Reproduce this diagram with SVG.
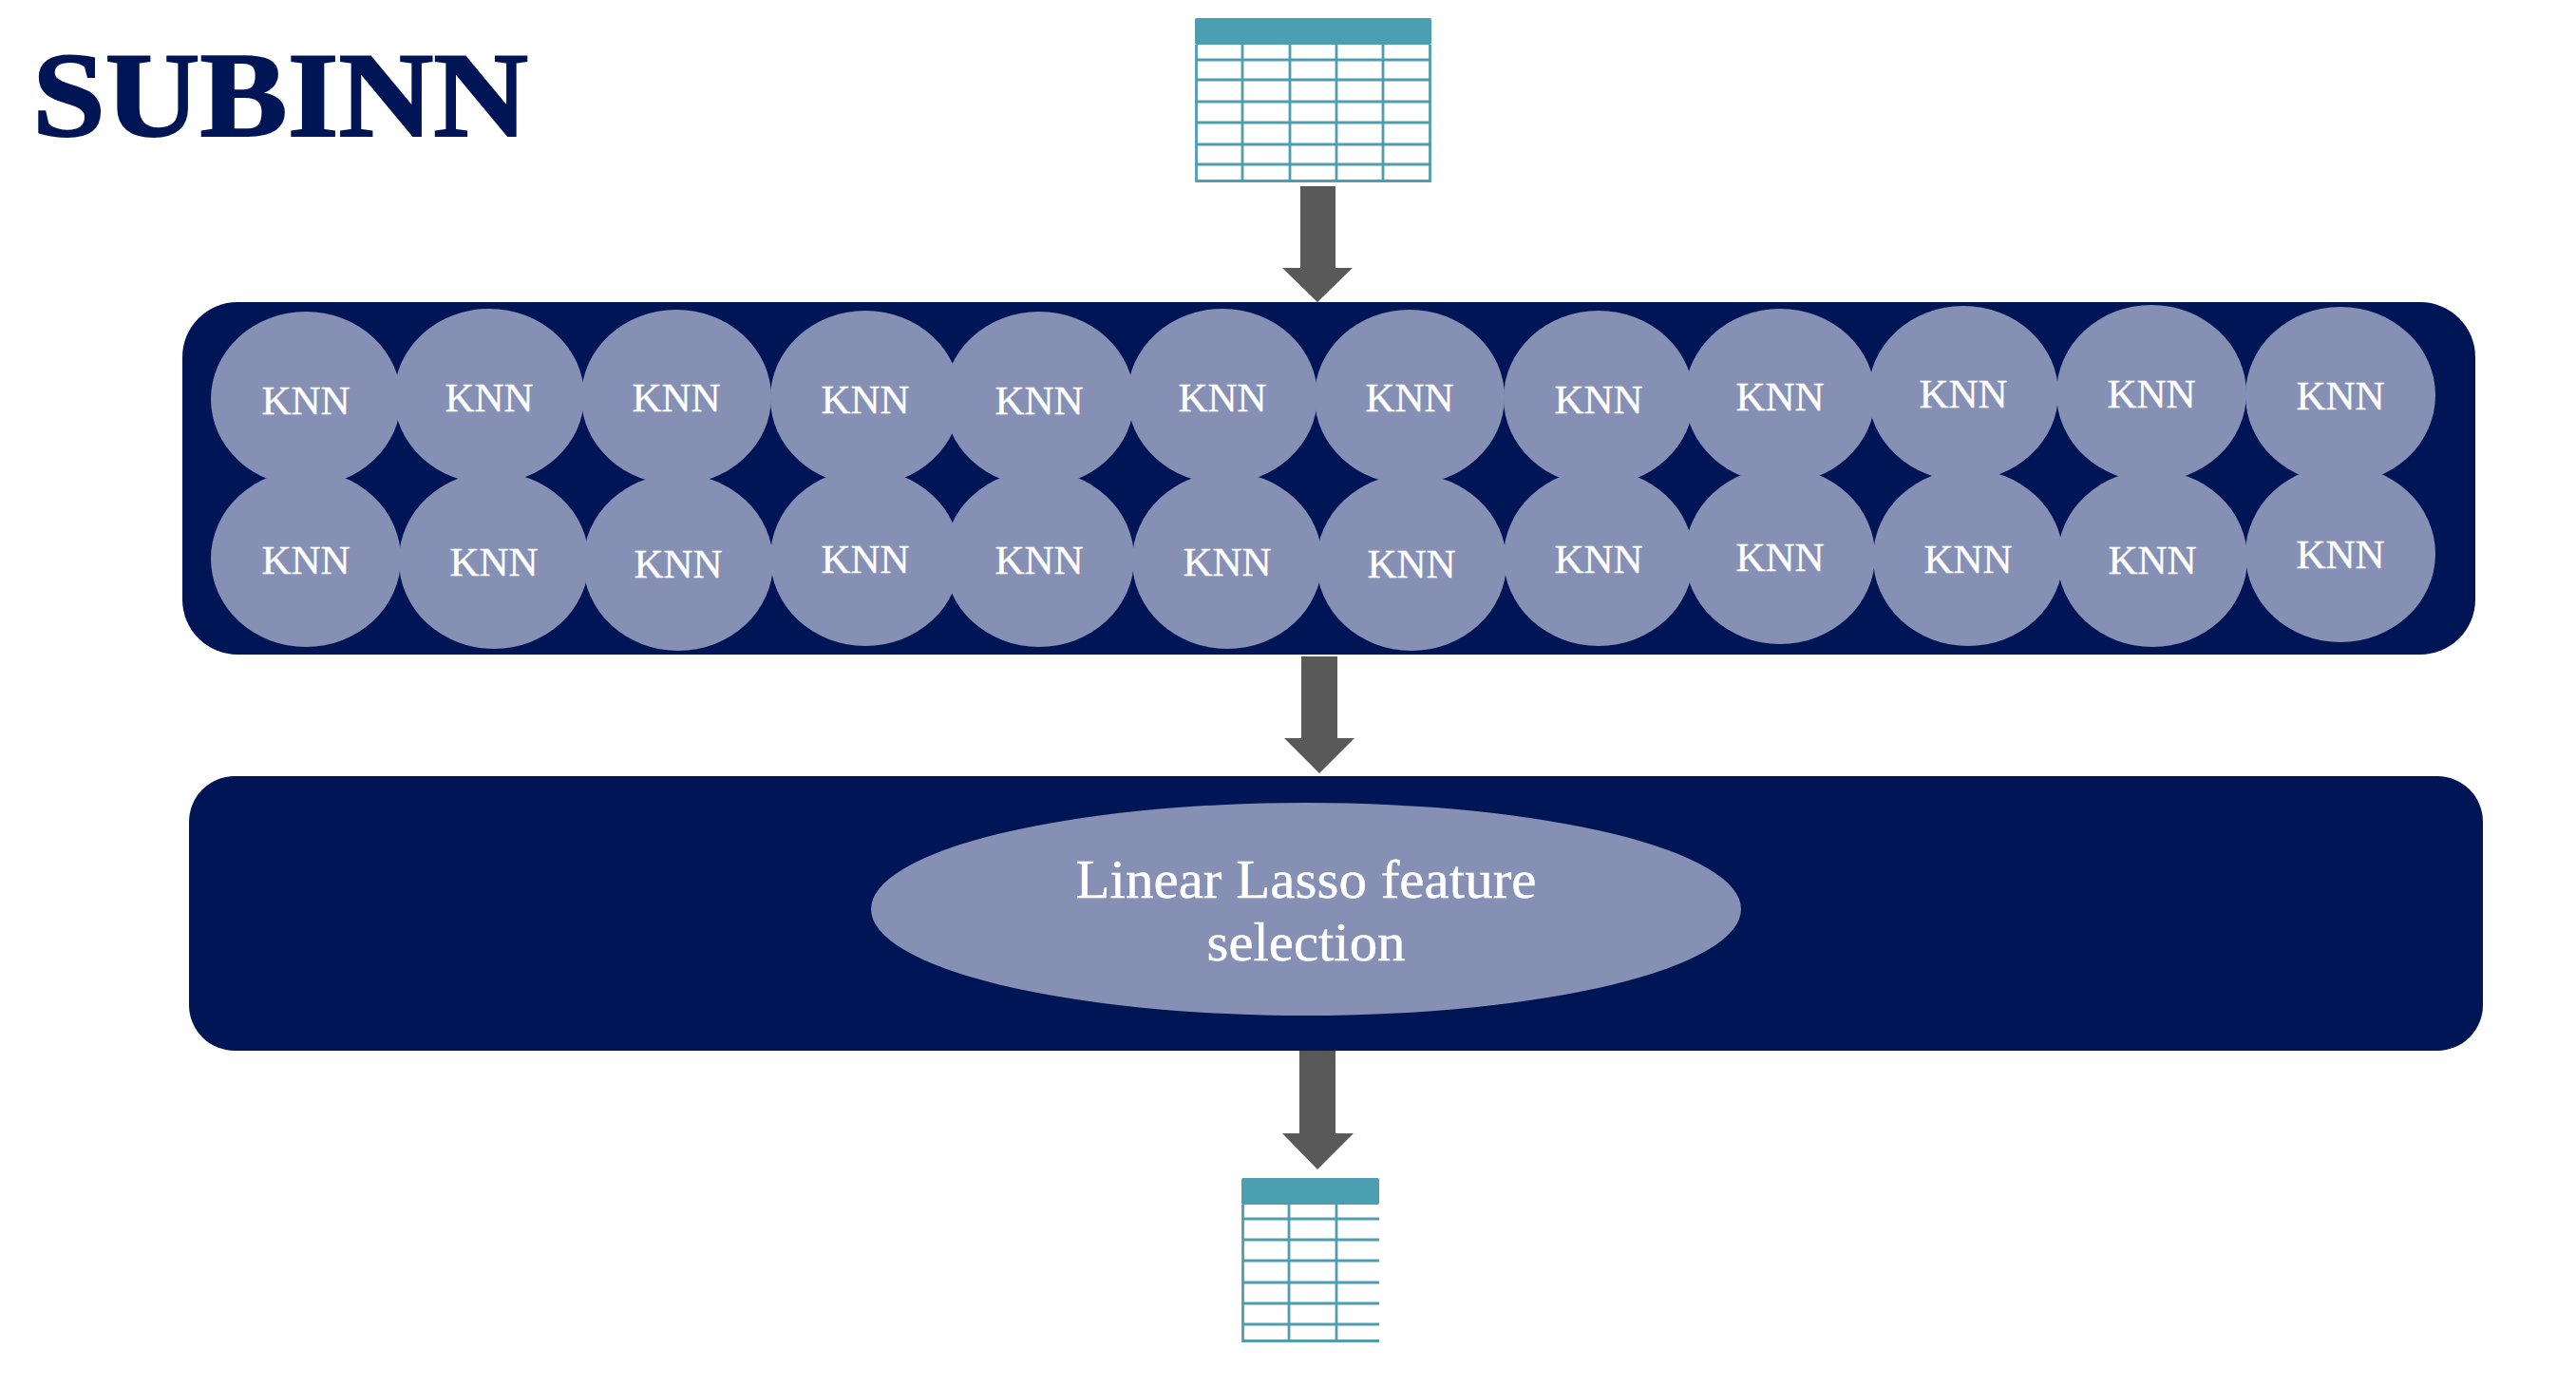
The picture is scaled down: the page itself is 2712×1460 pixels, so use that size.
<svg xmlns="http://www.w3.org/2000/svg" width="2712" height="1460" viewBox="0 0 2712 1460">
<style>
.panel{fill:#001555}
.blob{fill:#8690B5}
.t{font-family:"Liberation Serif",serif;fill:#fff;text-anchor:middle;stroke:#fff;stroke-width:.4}
.k{font-size:43px}
.l{font-size:57px}
.hdr{fill:#4C9FB1}
.grid{stroke:#4F9DAF;stroke-width:2.800;fill:none}
.arr{fill:#595959}
</style>
<rect width="2712" height="1460" fill="#fff"/>
<g id="title"><text x="34" y="143" font-family="'Liberation Serif',serif" font-weight="700" font-size="127" fill="#001555" stroke="#001555" stroke-width="2" textLength="522" lengthAdjust="spacingAndGlyphs">SUBINN</text></g>
<g id="table-in">
<rect class="hdr" x="1258" y="19" width="249" height="28" rx="2"/>
<path class="grid" d="M1259.500 47V190.500H1505.500V47M1308 47V190.500M1358 47V190.500M1407 47V190.500M1456 47V190.500M1259.500 63H1505.500M1259.500 84H1505.500M1259.500 107H1505.500M1259.500 129H1505.500M1259.500 152H1505.500M1259.500 173H1505.500"/>
</g>
<g id="panel-knn"><rect class="panel" x="192" y="318" width="2414" height="371" rx="58"/></g>
<g id="panel-lasso"><rect class="panel" x="199" y="817" width="2415" height="289" rx="48"/></g>
<g id="knn-1-1"><ellipse class="blob" cx="322" cy="420" rx="100" ry="92"/><text class="t k" x="322" y="436">KNN</text></g>
<g id="knn-1-2"><ellipse class="blob" cx="515" cy="417" rx="100" ry="92"/><text class="t k" x="515" y="433">KNN</text></g>
<g id="knn-1-3"><ellipse class="blob" cx="712" cy="418" rx="100" ry="92"/><text class="t k" x="712" y="433">KNN</text></g>
<g id="knn-1-4"><ellipse class="blob" cx="911" cy="419" rx="100" ry="92"/><text class="t k" x="911" y="435">KNN</text></g>
<g id="knn-1-5"><ellipse class="blob" cx="1094" cy="420" rx="100" ry="92"/><text class="t k" x="1094" y="436">KNN</text></g>
<g id="knn-1-6"><ellipse class="blob" cx="1287" cy="417" rx="100" ry="92"/><text class="t k" x="1287" y="433">KNN</text></g>
<g id="knn-1-7"><ellipse class="blob" cx="1484" cy="418" rx="100" ry="92"/><text class="t k" x="1484" y="433">KNN</text></g>
<g id="knn-1-8"><ellipse class="blob" cx="1683" cy="419" rx="100" ry="92"/><text class="t k" x="1683" y="435">KNN</text></g>
<g id="knn-1-9"><ellipse class="blob" cx="1874" cy="417" rx="100" ry="92"/><text class="t k" x="1874" y="432">KNN</text></g>
<g id="knn-1-10"><ellipse class="blob" cx="2067" cy="414" rx="100" ry="92"/><text class="t k" x="2067" y="429">KNN</text></g>
<g id="knn-1-11"><ellipse class="blob" cx="2265" cy="414" rx="100" ry="93"/><text class="t k" x="2265" y="429">KNN</text></g>
<g id="knn-1-12"><ellipse class="blob" cx="2464" cy="416" rx="100" ry="93"/><text class="t k" x="2464" y="431">KNN</text></g>
<g id="knn-2-1"><ellipse class="blob" cx="322" cy="588" rx="100" ry="93"/><text class="t k" x="322" y="604">KNN</text></g>
<g id="knn-2-2"><ellipse class="blob" cx="520" cy="590" rx="100" ry="93"/><text class="t k" x="520" y="606">KNN</text></g>
<g id="knn-2-3"><ellipse class="blob" cx="714" cy="592" rx="100" ry="93"/><text class="t k" x="714" y="608">KNN</text></g>
<g id="knn-2-4"><ellipse class="blob" cx="911" cy="587" rx="100" ry="93"/><text class="t k" x="911" y="603">KNN</text></g>
<g id="knn-2-5"><ellipse class="blob" cx="1094" cy="588" rx="100" ry="93"/><text class="t k" x="1094" y="604">KNN</text></g>
<g id="knn-2-6"><ellipse class="blob" cx="1292" cy="590" rx="100" ry="93"/><text class="t k" x="1292" y="606">KNN</text></g>
<g id="knn-2-7"><ellipse class="blob" cx="1486" cy="592" rx="100" ry="93"/><text class="t k" x="1486" y="608">KNN</text></g>
<g id="knn-2-8"><ellipse class="blob" cx="1683" cy="587" rx="100" ry="93"/><text class="t k" x="1683" y="603">KNN</text></g>
<g id="knn-2-9"><ellipse class="blob" cx="1874" cy="585" rx="100" ry="93"/><text class="t k" x="1874" y="601">KNN</text></g>
<g id="knn-2-10"><ellipse class="blob" cx="2072" cy="587" rx="100" ry="93"/><text class="t k" x="2072" y="603">KNN</text></g>
<g id="knn-2-11"><ellipse class="blob" cx="2266" cy="588" rx="100" ry="93"/><text class="t k" x="2266" y="604">KNN</text></g>
<g id="knn-2-12"><ellipse class="blob" cx="2464" cy="583" rx="100" ry="93"/><text class="t k" x="2464" y="598">KNN</text></g>
<g id="lasso"><ellipse class="blob" cx="1375" cy="957" rx="458" ry="112"/><text class="t l" x="1375" y="945" textLength="485" lengthAdjust="spacingAndGlyphs">Linear Lasso feature</text><text class="t l" x="1375" y="1011" textLength="209" lengthAdjust="spacingAndGlyphs">selection</text></g>
<g id="table-out">
<rect class="hdr" x="1307" y="1240" width="145" height="28" rx="2"/>
<path class="grid" d="M1452 1411.500H1308.500V1268M1357 1268V1411.500M1407 1268V1411.500M1308.500 1283H1452M1308.500 1305H1452M1308.500 1327H1452M1308.500 1350H1452M1308.500 1372H1452M1308.500 1394H1452"/>
</g>
<g id="connectors">
<polygon class="arr" points="1369,196 1406,196 1406,282 1424,282 1387,318 1350,282 1369,282"/>
<polygon class="arr" points="1370,691 1408,691 1408,777 1426,777 1389,814 1352,777 1370,777"/>
<polygon class="arr" points="1368,1106 1406,1106 1406,1193 1425,1193 1387,1231 1350,1193 1368,1193"/>
</g>
</svg>
